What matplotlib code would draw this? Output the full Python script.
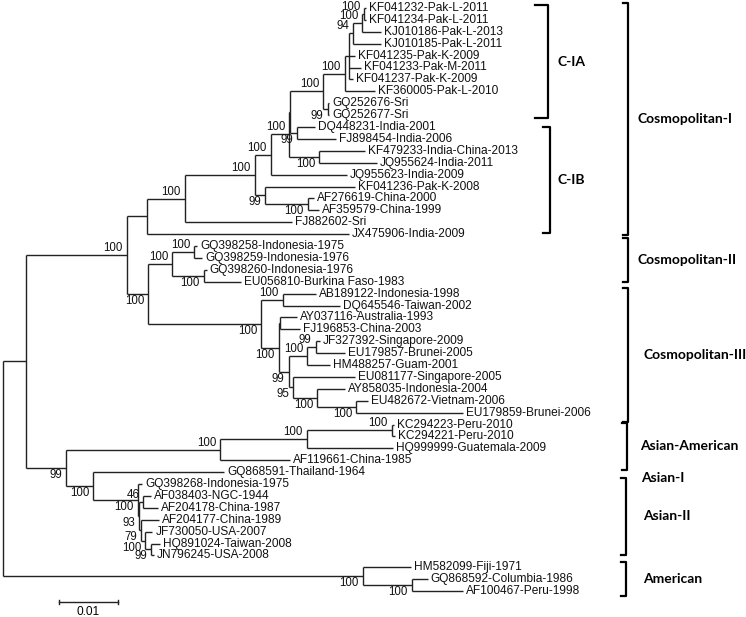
import matplotlib
matplotlib.use("Agg")
import matplotlib.pyplot as plt

# Newick fragments: branch lengths in substitutions/site, internal labels = bootstrap %
COSMO_I = (
    "((((((((((((KF041232-Pak-L-2011:0.0003,KF041234-Pak-L-2011:0.0003)100:0.0003,"
    "KJ010186-Pak-L-2013:0.0032)100:0.0015,KJ010185-Pak-L-2011:0.0047)94:0.0008,"
    "KF041235-Pak-K-2009:0.0010,KF041233-Pak-M-2011:0.0020,KF041237-Pak-K-2009:0.0007):0.0007,"
    "KF360005-Pak-L-2010:0.0051)100:0.0036,(GQ252676-Sri:0.0003,GQ252677-Sri:0.0003)99:0.0007)100:0.0056,"
    "(DQ448231-India-2001:0.0029,FJ898454-India-2006:0.0066)99:0.0012):0.0002,"
    "(KF479233-India-China-2013:0.0078,JQ955624-India-2011:0.0098)100:0.0051)100:0.0031,"
    "JQ955623-India-2009:0.0129)100:0.0027,"
    "(KF041236-Pak-K-2008:0.0153,(AF276619-China-2000:0.0010,AF359579-China-1999:0.0019)100:0.0073)99:0.0017)100:0.0119,"
    "FJ882602-Sri:0.0181)100:0.0064,"
    "JX475906-India-2009:0.0342)"
)
COSMO_II = (
    "((GQ398258-Indonesia-1975:0.0005,GQ398259-Indonesia-1976:0.0014)100:0.0037,"
    "(GQ398260-Indonesia-1976:0.0005,EU056810-Burkina Faso-1983:0.0063)100:0.0053)"
)
COSMO_III = (
    "((AB189122-Indonesia-1998:0.0056,DQ645546-Taiwan-2002:0.0097)100:0.0036,"
    "((AY037116-Australia-1993:0.0029,FJ196853-China-2003:0.0034):0.0003,"
    "(((JF327392-Singapore-2009:0.0007,EU179857-Brunei-2005:0.0049)99:0.0014,HM488257-Guam-2001:0.0039)100:0.0032,"
    "(EU081177-Singapore-2005:0.0105,(AY858035-Indonesia-2004:0.0046,"
    "(EU482672-Vietnam-2006:0.0019,EU179859-Brunei-2006:0.0181)100:0.0066)100:0.0041)95:0.0008)99:0.0017)100:0.0029)"
)
ASIAN_AMERICAN = (
    "(((KC294223-Peru-2010:0.0003,KC294221-Peru-2010:0.0005)100:0.0144,"
    "HQ999999-Guatemala-2009:0.0146)100:0.0147,AF119661-China-1985:0.0119)"
)
ASIAN = (
    "(GQ868591-Thailand-1964:0.0222,(GQ398268-Indonesia-1975:0.0008,"
    "((AF038403-NGC-1944:0.0012,AF204178-China-1987:0.0025)46:0.0007,"
    "(AF204177-China-1989:0.0031,(JF730050-USA-2007:0.0012,"
    "(HQ891024-Taiwan-2008:0.0015,JN796245-USA-2008:0.0005)99:0.0010)100:0.0007)79:0.0003)93:0.0003)100:0.0075)"
)
AMERICAN = "(HM582099-Fiji-1971:0.0081,(GQ868592-Columbia-1986:0.0027,AF100467-Peru-1998:0.0086)100:0.0083)"

TREE = ("(((" + COSMO_I + ":0.0034,(" + COSMO_II + "100:0.0041," + COSMO_III + "100:0.0192)100:0.0036)100:0.0171,("
        + ASIAN_AMERICAN + "100:0.0261," + ASIAN + "100:0.0046)99:0.0068):0.0039," + AMERICAN + "100:0.0610);")

# genotype brackets, spans in leaf rows
CLADE_NAMES = ["C-IA", "C-IB", "Cosmopolitan-I", "Cosmopolitan-II", "Cosmopolitan-III",
               "Asian-American", "Asian-I", "Asian-II", "American"]
CLADE_TOP = [-0.25, 10.0, -0.4, 19.35, 23.5, 34.85, 39.5, 39.5, 46.55]
CLADE_BOTTOM = [9.25, 18.9, 19.05, 23.05, 34.8, 38.8, 39.5, 45.95, 49.45]
SCALE_BAR = 0.01

# layout (figure pixels)
W, H = 746, 617
PX_PER_UNIT = 5900          # 0.01 substitutions = 59 px
ROW0, ROW_H = 8, 11.9       # first leaf row, row spacing
BRACKET_X = [548, 550, 628, 628, 628, 627, None, 626, 626]
BRACKET_HOOK = [13, 7, 5, 5, 5, 5, 0, 5, 5]
LABEL_X = [557, 557, 637, 637, 643, 640, 641, 643, 643]
LINE = "#222222"


def parse_newick(s):
    s = s.strip().rstrip(";")
    pos = 0

    def read_node():
        nonlocal pos
        node = {"children": [], "name": "", "length": 0.0}
        if s[pos] == "(":
            pos += 1
            while True:
                node["children"].append(read_node())
                if s[pos] == ",":
                    pos += 1
                    continue
                pos += 1   # closing ')'
                break
        start = pos
        while pos < len(s) and s[pos] not in ",():":
            pos += 1
        node["name"] = s[start:pos]
        if pos < len(s) and s[pos] == ":":
            pos += 1
            start = pos
            while pos < len(s) and s[pos] not in ",()":
                pos += 1
            node["length"] = float(s[start:pos])
        return node

    return read_node()


def layout(node, depth, leaves):
    node["x"] = depth + node["length"]
    if not node["children"]:
        node["y"] = len(leaves)
        leaves.append(node)
        return
    for c in node["children"]:
        layout(c, node["x"], leaves)
    node["y"] = (node["children"][0]["y"] + node["children"][-1]["y"]) / 2


def draw(ax, node, upper=True):
    kids = node["children"]
    if not kids:
        ax.annotate(node["name"], (node["x"], node["y"]), xytext=(3, 0), textcoords="offset pixels",
                    ha="left", va="center", fontsize=8.6, family="Liberation Sans", color="#111111")
        return
    for i, c in enumerate(kids):
        ax.plot([node["x"], c["x"]], [c["y"], c["y"]], color=LINE, lw=1.0, solid_capstyle="butt")
        draw(ax, c, i == 0)
    ax.plot([node["x"], node["x"]], [kids[0]["y"], kids[-1]["y"]], color=LINE, lw=1.0,
            solid_capstyle="butt")
    if node["name"]:
        ax.annotate(node["name"], (node["x"], node["y"]),
                    xytext=(-4, 1 if upper else -1), textcoords="offset pixels",
                    ha="right", va="bottom" if upper else "top",
                    fontsize=8.3, family="Liberation Sans", color="#111111")


root = parse_newick(TREE)
leaves = []
layout(root, 0.0, leaves)

fig = plt.figure(figsize=(W / 100, H / 100), dpi=100)
ax = fig.add_axes([0, 0, 1, 1])
x0 = -3 / PX_PER_UNIT
ax.set_xlim(x0, x0 + W / PX_PER_UNIT)
ax.set_ylim((H - ROW0) / ROW_H, -ROW0 / ROW_H)
ax.axis("off")

draw(ax, root)

# clade brackets
tr = ax.get_yaxis_transform()
for name, top, bot, bx, hook, lx in zip(CLADE_NAMES, CLADE_TOP, CLADE_BOTTOM,
                                        BRACKET_X, BRACKET_HOOK, LABEL_X):
    if bx is not None:
        ax.plot([(bx - hook) / W, bx / W, bx / W, (bx - hook) / W], [top, top, bot, bot],
                transform=tr, color="black", lw=1.6, solid_joinstyle="round")
    ax.text(lx / W, (top + bot) / 2, name, transform=tr, ha="left", va="center",
            fontsize=10, family="Lato", fontweight="bold", color="black")

# scale bar
sb_x = (59 - 3) / PX_PER_UNIT
sb_y = (602 - ROW0) / ROW_H
ax.plot([sb_x, sb_x + SCALE_BAR], [sb_y, sb_y], color=LINE, lw=1.0)
for xx in (sb_x, sb_x + SCALE_BAR):
    ax.plot([xx, xx], [sb_y - 0.15, sb_y + 0.15], color=LINE, lw=1.0)
ax.text(sb_x + SCALE_BAR / 2, sb_y + 0.35, f"{SCALE_BAR:g}", ha="center", va="top",
        fontsize=8.6, family="Liberation Sans")

fig.savefig("out.png", dpi=100)
